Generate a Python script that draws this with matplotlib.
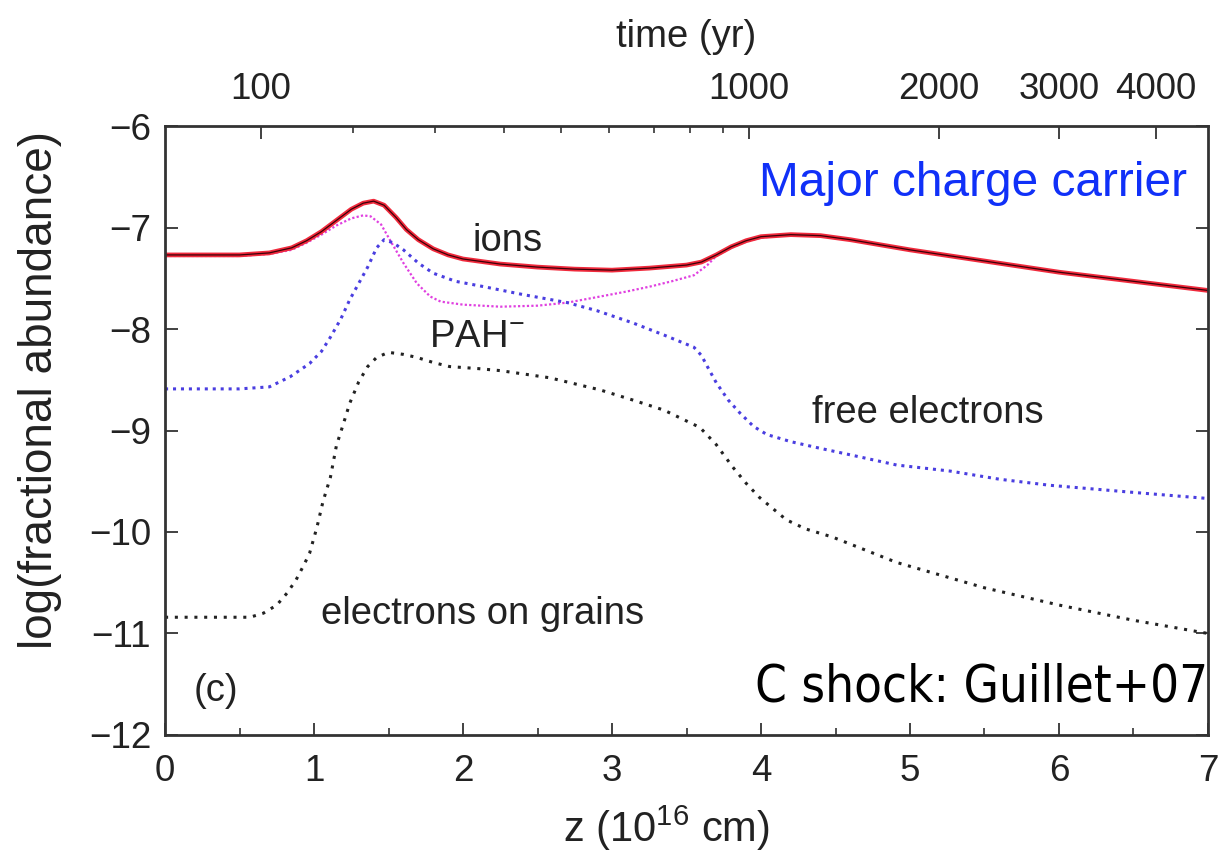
import numpy as np
import matplotlib.pyplot as plt

plt.rcParams['font.family'] = ['Liberation Sans', 'DejaVu Sans']
plt.rcParams['mathtext.fontset'] = 'custom'
plt.rcParams['mathtext.rm'] = 'Liberation Sans'
plt.rcParams['mathtext.it'] = 'Liberation Sans'

# ions (solid)
z_ions = [0, 0.5, 0.7, 0.85, 0.95, 1.05, 1.15, 1.25, 1.33, 1.40, 1.47, 1.55, 1.62, 1.7,
          1.8, 1.9, 2.0, 2.25, 2.5, 2.75, 3.0, 3.25, 3.5, 3.6, 3.7, 3.8, 3.9, 4.0, 4.2,
          4.4, 4.6, 4.8, 5.0, 5.5, 6.0, 6.5, 7.0]
ions = [-7.27, -7.27, -7.25, -7.2, -7.13, -7.04, -6.93, -6.82, -6.76, -6.74, -6.78, -6.9,
        -7.02, -7.12, -7.21, -7.27, -7.31, -7.36, -7.39, -7.41, -7.42, -7.40, -7.37, -7.34,
        -7.27, -7.19, -7.13, -7.09, -7.07, -7.08, -7.12, -7.17, -7.22, -7.33, -7.44, -7.53,
        -7.62]

# pink dotted curve
z_pink = [0, 0.5, 0.7, 0.85, 0.95, 1.05, 1.15, 1.25, 1.33, 1.38, 1.45, 1.52, 1.6, 1.69,
          1.78, 1.85, 2.0, 2.25, 2.5, 2.7, 2.92, 3.1, 3.26, 3.4, 3.55, 3.64, 3.7, 3.8,
          3.9, 4.0, 4.2, 4.4, 4.6, 4.8, 5.0, 5.5, 6.0, 6.5, 7.0]
pink = [-7.28, -7.28, -7.26, -7.22, -7.15, -7.07, -6.98, -6.91, -6.88, -6.89, -6.97,
        -7.15, -7.35, -7.55, -7.68, -7.73, -7.76, -7.78, -7.77, -7.74, -7.68, -7.63, -7.58,
        -7.53, -7.47, -7.37, -7.28, -7.2, -7.14, -7.1, -7.07, -7.08, -7.12, -7.17, -7.22,
        -7.33, -7.44, -7.53, -7.62]

# free electrons
z_free = [0, 0.5, 0.7, 0.84, 0.97, 1.05, 1.11, 1.18, 1.24, 1.3, 1.36, 1.42, 1.47, 1.53,
          1.6, 1.7, 1.8, 1.95, 2.13, 2.4, 2.7, 2.9, 3.14, 3.35, 3.55, 3.6, 3.64, 3.7,
          3.78, 3.86, 3.95, 4.04, 4.2, 4.38, 4.6, 4.91, 5.27, 5.6, 5.94, 6.5, 7.0]
free_e = [-8.59, -8.59, -8.57, -8.47, -8.34, -8.22, -8.08, -7.9, -7.71, -7.55, -7.39,
          -7.2, -7.12, -7.15, -7.22, -7.35, -7.45, -7.53, -7.58, -7.66, -7.74, -7.82,
          -7.94, -8.06, -8.18, -8.26, -8.37, -8.53, -8.70, -8.83, -8.96, -9.04, -9.11,
          -9.17, -9.24, -9.34, -9.40, -9.48, -9.54, -9.61, -9.67]

# electrons on grains
z_grain = [0, 0.57, 0.66, 0.75, 0.82, 0.88, 0.93, 0.97, 1.02, 1.06, 1.11, 1.15, 1.2,
           1.24, 1.3, 1.36, 1.42, 1.5, 1.6, 1.69, 1.8, 1.91, 2.1, 2.25, 2.58, 2.92, 3.14,
           3.35, 3.59, 3.7, 3.81, 3.9, 3.99, 4.17, 4.3, 4.48, 4.91, 5.5, 6.0, 6.5, 7.0]
grain_e = [-10.84, -10.84, -10.8, -10.72, -10.6, -10.47, -10.33, -10.21, -9.95, -9.7,
           -9.46, -9.15, -8.92, -8.73, -8.52, -8.37, -8.28, -8.23, -8.25, -8.28, -8.33,
           -8.37, -8.39, -8.41, -8.48, -8.60, -8.70, -8.80, -8.97, -9.14, -9.36, -9.52,
           -9.66, -9.88, -9.97, -10.05, -10.30, -10.55, -10.72, -10.87, -11.0]

# top axis: time (yr) ticks and where they fall in z
time_major = [100, 1000, 2000, 3000, 4000]
time_major_z = [0.644, 3.919, 5.195, 6.0, 6.651]
time_minor_z = [1.262, 1.812, 2.275, 2.658, 2.980, 3.282, 3.523, 3.745]

fig = plt.figure(figsize=(12.29, 8.58), dpi=100)
ax = fig.add_axes([0.1343, 0.1434, 0.8486, 0.7097])

ax.plot(z_pink, pink, color='#e040e0', lw=1.6, ls=(0, (1, 1)))
ax.plot(z_ions, ions, color='#f02a3c', lw=3.4)
ax.plot(z_ions, ions, color='#3a0008', lw=0.9)
ax.plot(z_free, free_e, color='#4a3ee0', lw=2.2, ls=(0, (1, 1.6)))
ax.plot(z_grain, grain_e, color='#222222', lw=2.2, ls=(0, (1, 2.2)))

ax.set_xlim(0, 7)
ax.set_ylim(-12, -6)
ax.set_xticks(range(0, 8))
ax.set_xticks(np.arange(0.5, 7, 1.0), minor=True)
ax.set_yticks(range(-12, -5))
ax.set_yticklabels(['\u221212', '\u221211', '\u221210', '\u22129', '\u22128', '\u22127', '\u22126'])
ax.tick_params(axis='both', which='major', direction='in', length=9, width=1.3,
               labelsize=26.5, colors='#333333', labelcolor='#222222', pad=10)
ax.tick_params(axis='x', which='major', pad=14)
ax.tick_params(axis='x', which='minor', direction='in', length=5, width=1.2, colors='#333333')
ax.tick_params(axis='y', right=True, which='major')
ax.tick_params(axis='x', top=False)
for s in ax.spines.values():
    s.set_linewidth(2.0)
    s.set_color('#333333')

ax.set_xlabel('z (10$^{16}$ cm)', fontsize=30, color='#222222')
ax.xaxis.set_label_coords(0.481, -0.113)
ax.set_ylabel('log(fractional abundance)', fontsize=33, color='#222222')
ax.yaxis.set_label_coords(-0.099, 0.566)

top = ax.twiny()
top.set_xlim(0, 7)
top.set_xticks(time_major_z)
top.set_xticklabels([str(t) for t in time_major])
top.set_xticks(time_minor_z, minor=True)
top.tick_params(axis='x', which='major', direction='in', length=9, width=1.3,
                labelsize=26.5, colors='#333333', labelcolor='#222222', pad=14)
top.tick_params(axis='x', which='minor', direction='in', length=5, width=1.2, colors='#333333')
top.set_xlabel('time (yr)', fontsize=27.5, color='#222222', labelpad=18)
for s in top.spines.values():
    s.set_visible(False)

ax.text(2.30, -7.13, 'ions', fontsize=27.5, ha='center', va='center', color='#222222')
ax.text(2.09, -8.08, 'PAH$^{-}$', fontsize=27.5, ha='center', va='center', color='#222222')
ax.text(5.12, -8.83, 'free electrons', fontsize=27.5, ha='center', va='center', color='#222222')
ax.text(2.13, -10.81, 'electrons on grains', fontsize=27.5, ha='center', va='center',
        color='#222222')
ax.text(0.34, -11.57, '(c)', fontsize=27.5, ha='center', va='center', color='#222222')
ax.text(6.86, -6.57, 'Major charge carrier', fontsize=34.5, ha='right', va='center',
        color='#1030f8')
ax.text(7.0, -11.53, 'C shock: Guillet+07', fontsize=36.5, ha='right', va='center',
        color='black', family='DejaVu Sans', fontstretch='condensed')

fig.savefig('out.png', dpi=100)
